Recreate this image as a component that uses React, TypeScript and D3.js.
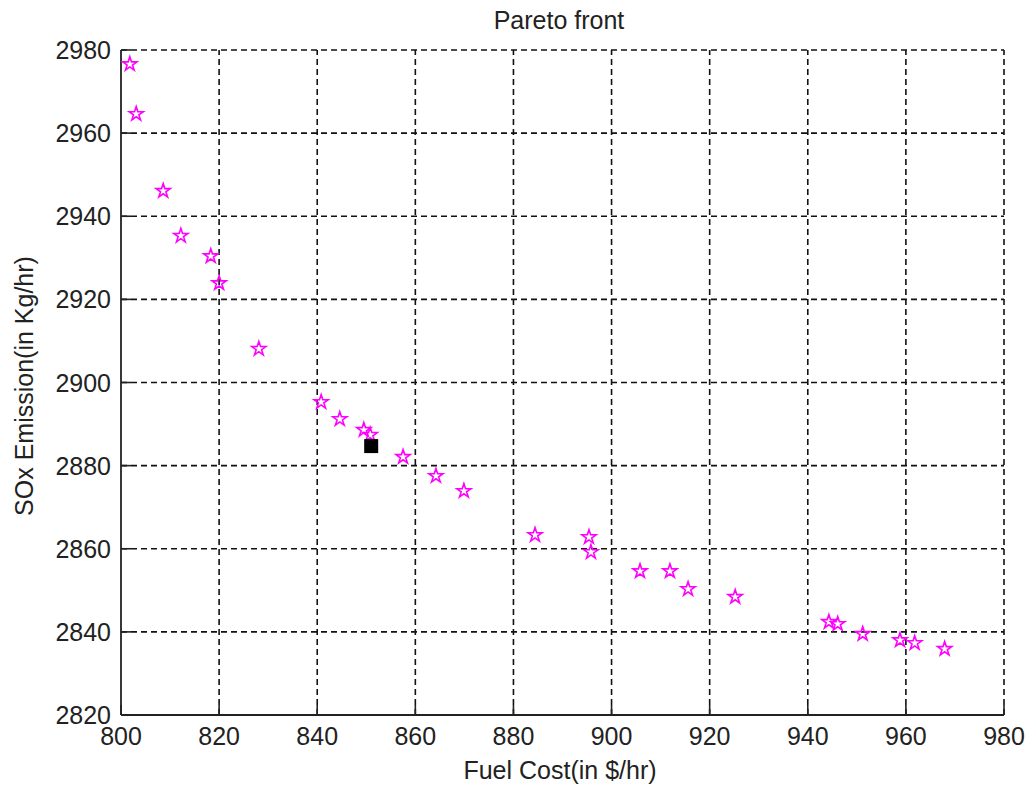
import React from "react";
import * as d3 from "d3";

const fuelCost = [801.8, 803.1, 808.6, 812.2, 818.3, 820.0, 828.1, 840.8, 844.6, 849.5, 850.8, 857.5, 864.2, 869.9, 884.4, 895.4, 895.8, 905.8, 911.9, 915.6, 925.2, 944.3, 946.1, 951.2, 958.8, 961.8, 967.9];
const soxEmission = [2976.6, 2964.6, 2946.1, 2935.3, 2930.4, 2923.9, 2908.1, 2895.3, 2891.2, 2888.6, 2887.4, 2882.1, 2877.5, 2873.9, 2863.3, 2862.8, 2859.2, 2854.6, 2854.6, 2850.3, 2848.4, 2842.4, 2841.9, 2839.5, 2838.0, 2837.3, 2835.9];
const bestPoint = [851.0, 2884.7];
const xTicks = [800, 820, 840, 860, 880, 900, 920, 940, 960, 980];
const yTicks = [2820, 2840, 2860, 2880, 2900, 2920, 2940, 2960, 2980];

const W = 1030, H = 790;
const L = 121, R = 1004, T = 50, B = 715;
const font = "'Liberation Sans', Arial, sans-serif";

export default function App() {
  const x = d3.scaleLinear().domain([800, 980]).range([L, R]);
  const y = d3.scaleLinear().domain([2820, 2980]).range([B, T]);
  const star = d3.symbol(d3.symbolStar, 62)()!;
  const sq = 14;
  return (
    <svg width={W} height={H} style={{ position: "absolute", left: 0, top: 0, background: "#fff" }}>
      <rect x={0} y={0} width={W} height={H} fill="#fff" />
      {xTicks.slice(1).map((t) => (
        <line key={"gx" + t} x1={x(t)} x2={x(t)} y1={B} y2={T} stroke="#111" strokeWidth={1.6} strokeDasharray="6,4" />
      ))}
      {yTicks.slice(1).map((t) => (
        <line key={"gy" + t} x1={L} x2={R} y1={y(t)} y2={y(t)} stroke="#111" strokeWidth={1.6} strokeDasharray="6,4" />
      ))}
      <line x1={L} x2={R} y1={B} y2={B} stroke="#222" strokeWidth={1.8} />
      <line x1={L} x2={L} y1={B} y2={T} stroke="#222" strokeWidth={1.8} />
      {xTicks.map((t) => (
        <g key={"tx" + t}>
          <line x1={x(t)} x2={x(t)} y1={B} y2={B - 10} stroke="#222" strokeWidth={1.6} />
          <text x={x(t)} y={B + 30} textAnchor="middle" fontFamily={font} fontSize={25} fill="#222">{t}</text>
        </g>
      ))}
      {yTicks.map((t) => (
        <g key={"ty" + t}>
          <line x1={L} x2={L + 10} y1={y(t)} y2={y(t)} stroke="#222" strokeWidth={1.6} />
          <text x={L - 10} y={y(t) + 9} textAnchor="end" fontFamily={font} fontSize={25} fill="#222">{t}</text>
        </g>
      ))}
      {fuelCost.map((v, i) => (
        <path key={"p" + i} d={star} transform={`translate(${x(v)},${y(soxEmission[i])})`} fill="none" stroke="#ff00ff" strokeWidth={1.6} />
      ))}
      <rect x={x(bestPoint[0]) - sq / 2} y={y(bestPoint[1]) - sq / 2} width={sq} height={sq} fill="#000" />
      <text x={559} y={29} textAnchor="middle" fontFamily={font} fontSize={25} fill="#222">Pareto front</text>
      <text x={560} y={779} textAnchor="middle" fontFamily={font} fontSize={25} fill="#222">Fuel Cost(in $/hr)</text>
      <text transform={`translate(33,386) rotate(-90)`} textAnchor="middle" fontFamily={font} fontSize={25} fill="#222">SOx Emission(in Kg/hr)</text>
    </svg>
  );
}
